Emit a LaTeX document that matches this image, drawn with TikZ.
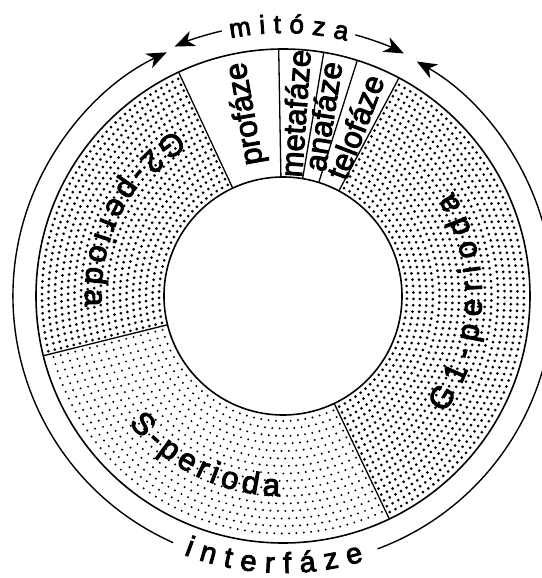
\documentclass[tikz,border=0pt]{standalone}
\usepackage{fontspec}
\setmainfont{Liberation Sans}[FakeBold=3]
\usetikzlibrary{arrows.meta,decorations.text}
\newcommand\bigfont{\fontsize{31}{31}\selectfont}
\newcommand\midfont{\fontsize{29}{29}\selectfont}
\newcommand\smallfont{\fontsize{26}{26}\selectfont}
% dots arranged on concentric arcs: start angle, end angle, rmin, rmax, spacing, dot radius
\newcommand\dotring[6]{%
  \pgfmathtruncatemacro\dotnr{(#4-#3)/#5}%
  \foreach \i in {0,...,\dotnr}{%
    \pgfmathsetmacro\dotrr{#3+\i*#5}%
    \pgfmathtruncatemacro\dotna{(#2-#1)*pi/180*\dotrr/#5}%
    \pgfmathsetmacro\dotda{(#2-#1)/(\dotna+1)}%
    \foreach \j in {0,...,\dotna}{%
      \fill ({#1+(\j+0.5)*\dotda}:\dotrr) circle[radius=#6];
    }%
  }%
}
\begin{document}
\begin{tikzpicture}[x=1pt,y=1pt,
  ring/.style={line width=1.6pt},
  divider/.style={line width=1.3pt},
  cyclearrow/.style={line width=1.4pt,-{Stealth[length=20pt,width=16pt,inset=6pt]}},
  phaselabel/.style={font=\bigfont, inner sep=0pt},
  curvedlabel/.style={decorate,decoration={text along path,text align=fit to path,#1}}
]
\fill[white] (-283,-282) rectangle (258,296);
\useasboundingbox (-283,-282) rectangle (258,296);

% dotted sectors
\dotring{-64.5}{62}{124}{243}{6.5}{1.5}
\dotring{115}{194}{124}{243}{6.5}{1.5}
\dotring{194}{295.5}{125}{242}{7.5}{1.1}

% ring
\draw[ring] (0,0) circle[radius=247];
\draw[ring] (0,0) circle[radius=119];
\foreach \a in {115,91,80.5,72.5,62,-64.5,194}
  \draw[divider] (\a:119) -- (\a:247);

% mitosis phase labels
\node[phaselabel, rotate=100] (pro) at (101.5:186) {profáze};
\node[phaselabel, rotate=86] (meta) at (86.2:183) {metafáze};
\node[phaselabel, rotate=81] (ana) at (77.5:184) {anafáze};
\node[phaselabel, rotate=69] (telo) at (66.9:184) {telofáze};

% curved labels
\path[curvedlabel={text={|\bigfont|G1-perioda}}] (-36:199) arc[start angle=-36, end angle=31.5, radius=199];
\path[curvedlabel={text={|\bigfont|G2-perioda}}] (123:198) arc[start angle=123, end angle=183, radius=198];
\path[curvedlabel={text={|\bigfont|S-perioda}}] (219.5:200) arc[start angle=219.5, end angle=269, radius=200];
\path[curvedlabel={text={|\midfont|interfáze}}] (249:277) arc[start angle=249, end angle=287, radius=277];
\path[curvedlabel={text={|\smallfont|mitóza}}] (101.5:263) arc[start angle=101.5, end angle=76, radius=263];

% arrows
\draw[cyclearrow] (246:270) arc[start angle=246, end angle=115.5, radius=270];
\draw[cyclearrow] (290.5:270) arc[start angle=290.5, end angle=420.3, radius=270];
\draw[cyclearrow] (103:272) arc[start angle=103, end angle=113.5, radius=272];
\draw[cyclearrow] (74.5:271) arc[start angle=74.5, end angle=63.5, radius=271];
\end{tikzpicture}
\end{document}
